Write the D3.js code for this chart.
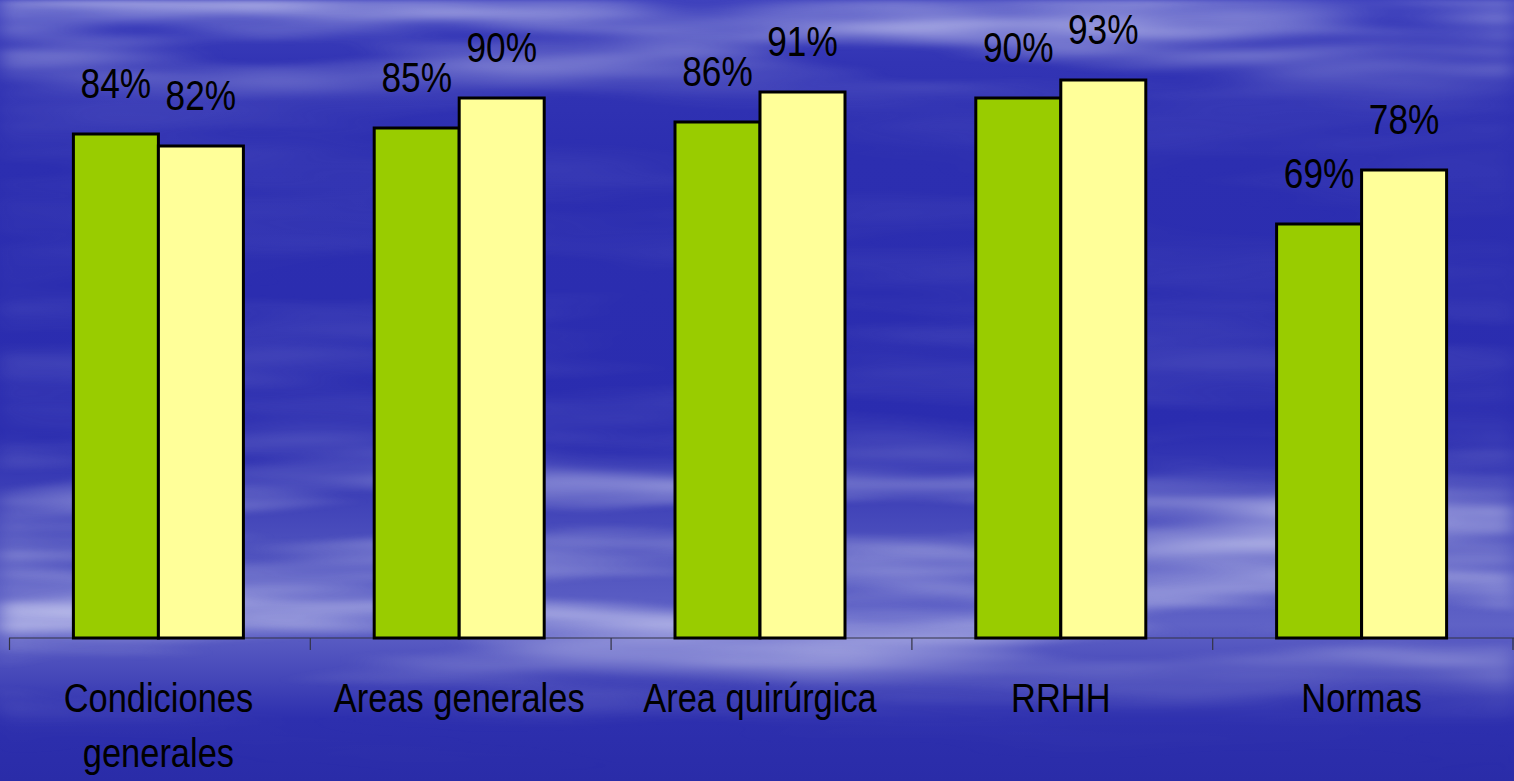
<!DOCTYPE html>
<html><head><meta charset="utf-8">
<script src="https://cdn.jsdelivr.net/npm/d3@7"></script>
<style>html,body{margin:0;padding:0;overflow:hidden;background:#2b2db2}</style>
</head><body>
<script>
const categories = [["Condiciones","generales"],["Areas generales"],["Area quirúrgica"],["RRHH"],["Normas"]];
const series1 = [0.84, 0.85, 0.86, 0.90, 0.69];
const series2 = [0.82, 0.90, 0.91, 0.93, 0.78];
const colors = ["#99CC00", "#FFFF99"];

const W = 1514, H = 781;
const svg = d3.select("body").append("svg").attr("width", W).attr("height", H);
const defs = svg.append("defs");

// background sky
const bg = defs.append("linearGradient").attr("id","sky").attr("x1",0).attr("y1",0).attr("x2",0).attr("y2",1);
[[0,"#3f42bd"],[0.08,"#3234b4"],[0.2,"#2c2eb0"],[0.55,"#2a2caf"],[0.7,"#4d50bd"],[0.8,"#5f62c6"],[0.87,"#4446b8"],[0.92,"#2d2fae"],[1,"#2a2ca8"]]
  .forEach(([o,c])=>bg.append("stop").attr("offset",o).attr("stop-color",c));
const f = defs.append("filter").attr("id","clouds").attr("x",0).attr("y",0).attr("width","100%").attr("height","100%");
f.append("feTurbulence").attr("type","fractalNoise").attr("baseFrequency","0.002 0.02").attr("numOctaves",3).attr("seed",7).attr("result","n");
f.append("feColorMatrix").attr("in","n").attr("type","matrix")
  .attr("values","0 0 0 0 0.72  0 0 0 0 0.73  0 0 0 0 0.93  2.0 0 0 0 -0.75").attr("result","c");
f.append("feGaussianBlur").attr("in","c").attr("stdDeviation","10 2");
const mg = defs.append("linearGradient").attr("id","mg").attr("x1",0).attr("y1",0).attr("x2",0).attr("y2",1);
[[0,0.9],[0.07,0.7],[0.13,0.12],[0.3,0.08],[0.45,0.15],[0.55,0.15],[0.64,0.75],[0.8,0.85],[0.87,0.35],[0.93,0.03],[1,0]]
  .forEach(([o,a])=>mg.append("stop").attr("offset",o).attr("stop-color","#fff").attr("stop-opacity",a));
defs.append("mask").attr("id","m").append("rect").attr("width",W).attr("height",H).attr("fill","url(#mg)");

svg.append("rect").attr("width",W).attr("height",H).attr("fill","url(#sky)");
svg.append("rect").attr("width",W).attr("height",H).attr("filter","url(#clouds)").attr("mask","url(#m)");

// scales
const x0 = d3.scaleBand().domain(d3.range(categories.length)).range([8, 1512]).paddingInner(0).paddingOuter(0);
const bw = 85;
const y = d3.scaleLinear().domain([0,1]).range([638, 38]);

const font = "'Liberation Sans', Arial, sans-serif";

// axis
const axisG = svg.append("g").attr("transform","translate(0,638)");
axisG.append("line").attr("x1",9).attr("x2",1514).attr("y1",0).attr("y2",0).attr("stroke","#333344").attr("stroke-width",1.2);
const tickPos = d3.range(categories.length+1).map(i => i < categories.length ? x0(i)+1.5 : 1513);
axisG.selectAll("line.tick").data(tickPos).join("line").attr("class","tick")
  .attr("x1",d=>d).attr("x2",d=>d).attr("y1",0).attr("y2",12).attr("stroke","#333344").attr("stroke-width",1.2);

// bars
const data = [];
categories.forEach((c,i)=>{ data.push({i, s:0, v:series1[i]}); data.push({i, s:1, v:series2[i]}); });
const bx = d => x0(d.i) + x0.bandwidth()/2 - bw + d.s*bw;
svg.append("g").selectAll("rect").data(data).join("rect")
  .attr("x", bx).attr("width", bw)
  .attr("y", d=>y(d.v)).attr("height", d=>y(0)-y(d.v))
  .attr("fill", d=>colors[d.s]).attr("stroke","#000").attr("stroke-width",3);

// value labels
svg.append("g").selectAll("text").data(data).join("text")
  .attr("transform", d=>`translate(${bx(d)+bw/2},${y(d.v)-36}) scale(0.84,1)`)
  .attr("text-anchor","middle").attr("font-family",font).attr("font-size",42)
  .attr("fill","#000").text(d=>Math.round(d.v*100)+"%");

// category labels
const cl = svg.append("g").selectAll("g").data(categories).join("g")
  .attr("transform",(d,i)=>`translate(${x0(i)+x0.bandwidth()/2},712) scale(0.84,1)`);
cl.selectAll("text").data(d=>d).join("text")
  .attr("y",(d,j)=>j*55).attr("text-anchor","middle").attr("font-family",font).attr("font-size",41)
  .attr("fill","#000").text(d=>d);
</script>
</body></html>
